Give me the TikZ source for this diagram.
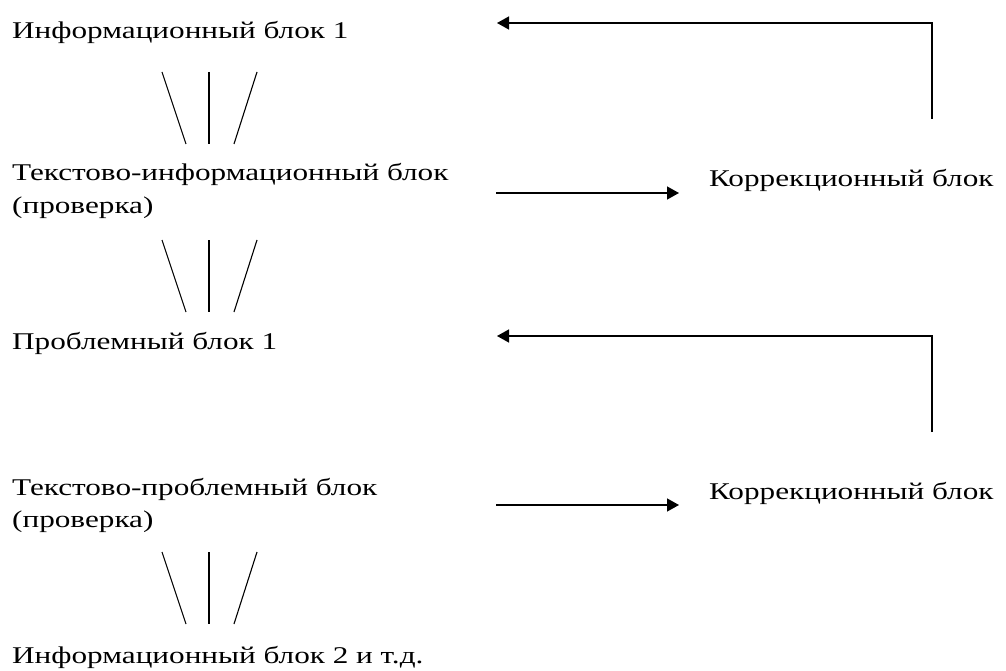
\documentclass[tikz,border=0pt]{standalone}
\usepackage{fontspec}
\setmainfont{Liberation Serif}[FakeStretch=1.3]
\usetikzlibrary{arrows.meta}
\begin{document}
\begin{tikzpicture}[x=1pt,y=-1pt,
  lbl/.style={inner sep=0pt,anchor=base west,font=\fontsize{24}{28}\selectfont},
  fan/.style={line width=1.1pt},
  conn/.style={line width=1.4pt},
  arr/.style={conn,-{Triangle[length=12pt,width=13pt]}}]
\useasboundingbox (0,0) rectangle (1006,671);
% text blocks
\node[lbl] (i1) at (12,39) {Информационный блок 1};
\node[lbl] (t1) at (12,181) {Текстово-информационный блок};
\node[lbl] (t1b) at (12,213) {(проверка)};
\node[lbl] (k1) at (709,186) {Коррекционный блок};
\node[lbl] (p1) at (12,349) {Проблемный блок 1};
\node[lbl] (t2) at (12,495) {Текстово-проблемный блок};
\node[lbl] (t2b) at (12,527) {(проверка)};
\node[lbl] (k2) at (709,499) {Коррекционный блок};
\node[lbl] (i2) at (12,663) {Информационный блок 2 и т.д.};
% fan coordinates
\foreach \n/\ya/\yb in {a/72/144,b/240/312,c/552/624}{
  \coordinate (f\n1) at (162,\ya); \coordinate (f\n2) at (186,\yb);
  \coordinate (f\n3) at (209,\ya); \coordinate (f\n4) at (209,\yb);
  \coordinate (f\n5) at (257,\ya); \coordinate (f\n6) at (234,\yb);
  \draw[fan] (f\n1) -- (f\n2);
  \draw[fan] (f\n3) -- (f\n4);
  \draw[fan] (f\n5) -- (f\n6);
}
% forward arrows
\coordinate (a1s) at (496,193); \coordinate (a1e) at (679,193);
\draw[arr] (a1s) -- (a1e);
\coordinate (a2s) at (496,505); \coordinate (a2e) at (679,505);
\draw[arr] (a2s) -- (a2e);
% feedback arrows
\coordinate (b1s) at (932,119); \coordinate (b1c) at (932,23); \coordinate (b1e) at (497,23);
\draw[arr] (b1s) -- (b1c) -- (b1e);
\coordinate (b2s) at (932,432); \coordinate (b2c) at (932,336); \coordinate (b2e) at (497,336);
\draw[arr] (b2s) -- (b2c) -- (b2e);
\end{tikzpicture}
\end{document}
